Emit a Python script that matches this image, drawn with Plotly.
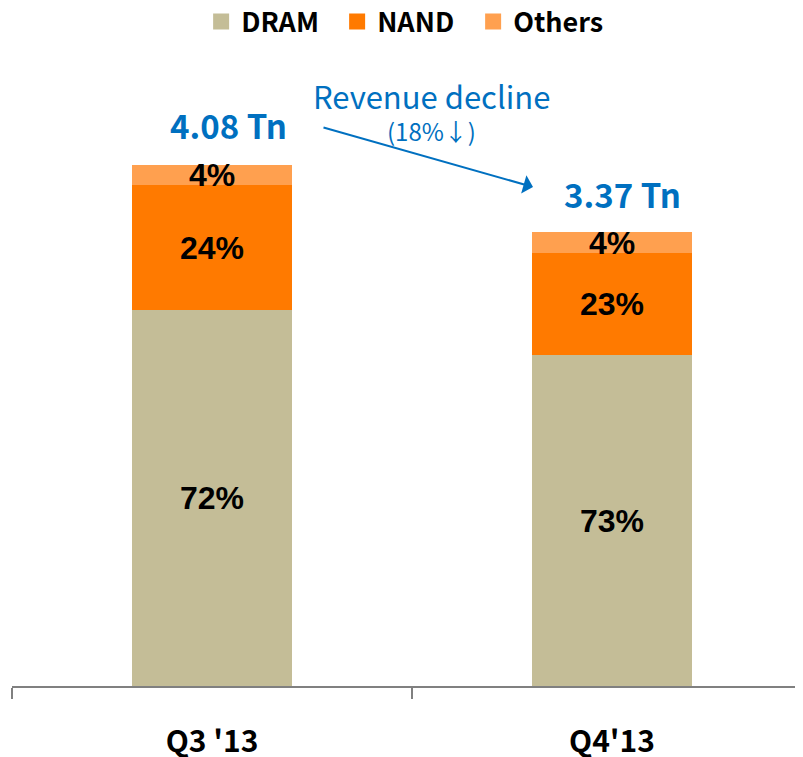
import plotly.graph_objects as go

categories = ["Q3 '13", "Q4'13"]
series_names = ["DRAM", "NAND", "Others"]
dram = [2.94, 2.59]
nand = [0.98, 0.80]
others = [0.16, 0.16]
dram_pct = ["72%", "73%"]
nand_pct = ["24%", "23%"]
others_pct = ["4%", "4%"]
totals_text = ["4.08 Tn", "3.37 Tn"]
colors = ["#C4BD97", "#FF7A00", "#FFA04F"]

KR = "Noto Sans CJK KR"
AR = "Liberation Sans, Arial"
BLUE = "#0070C0"

fig = go.Figure()
for name, vals, txt, col in zip(series_names, [dram, nand, others],
                                [dram_pct, nand_pct, others_pct], colors):
    fig.add_trace(go.Bar(
        x=categories, y=vals, name=name, marker=dict(color=col, line=dict(width=0)),
        text=txt, textposition="inside", insidetextanchor="middle",
        constraintext="none", cliponaxis=False, showlegend=False, legendgroup=name,
        textfont=dict(family=AR, size=32, color="black", weight="bold"),
    ))
    # legend entry with a larger square swatch
    fig.add_trace(go.Scatter(
        x=[None], y=[None], mode="markers", name=name, legendgroup=name,
        marker=dict(symbol="square", size=17, color=col), showlegend=True,
    ))

# page body adds an 8px margin; figure is sized to fit the 803x757 window
OFF = 8
W, H = 803 - OFF, 757 - OFF

fig.update_layout(
    width=W, height=H,
    barmode="stack", bargap=0.6,
    plot_bgcolor="white", paper_bgcolor="white",
    margin=dict(l=12 - OFF, r=0, t=60 - OFF, b=757 - 686, autoexpand=False),
    showlegend=True,
    legend=dict(orientation="h", x=0.497, xanchor="center", y=1 - (22 - OFF) / H,
                yanchor="middle", yref="container",
                font=dict(family=KR, size=27, color="black", weight="bold"),
                itemwidth=30, traceorder="normal", itemsizing="trace",
                entrywidth=91, entrywidthmode="pixels"),
    xaxis=dict(type="category", range=[-0.5, 1.4775], showline=True, linecolor="#808080",
               linewidth=2, ticks="outside", tickson="boundaries", ticklen=11,
               tickcolor="#808080", tickwidth=1.5, ticklabelstandoff=28,
               tickfont=dict(family=KR, size=30, color="black", weight="bold"),
               showgrid=False, zeroline=False, automargin=False),
    yaxis=dict(range=[0, 4.90], visible=False, showgrid=False, zeroline=False),
)

def px_x(p):
    return (p - 12) / 791

def px_y(p):
    return (686 - p) / 626

def note(x, y, text, size, bold=False):
    fig.add_annotation(x=px_x(x), y=px_y(y), xref="paper", yref="paper",
                       xanchor="center", yanchor="middle", text=text, showarrow=False,
                       font=dict(family=KR, size=size, color=BLUE,
                                 weight="bold" if bold else "normal"))

note(228, 125, totals_text[0], 33, True)
note(622, 194, totals_text[1], 33, True)
note(431, 95, "Revenue decline", 31)
note(431, 131, "(18%↓)", 24)
fig.add_annotation(x=px_x(533), y=px_y(187), xref="paper", yref="paper",
                   ax=-211, ay=-60, text="", showarrow=True,
                   arrowhead=1, arrowsize=1.6, arrowwidth=2, arrowcolor=BLUE)

fig.write_html("out.html")
